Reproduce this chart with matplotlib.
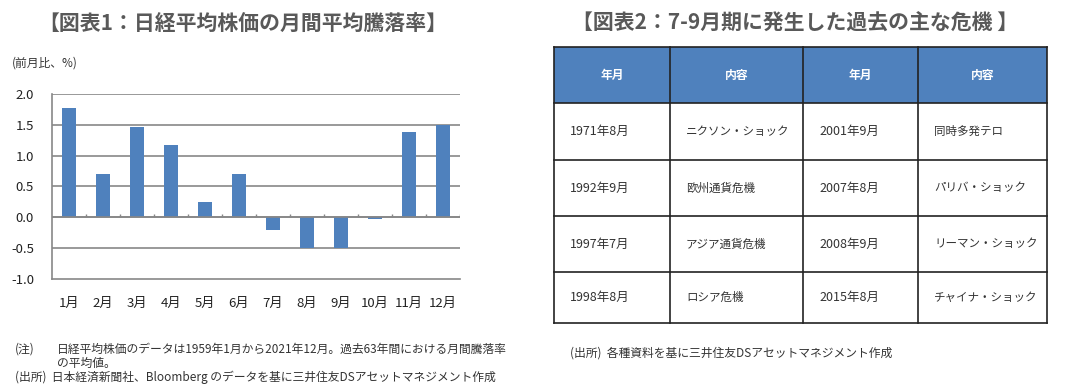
import numpy as np
import matplotlib.pyplot as plt
from matplotlib.patches import Rectangle

plt.rcParams['font.family'] = ['Noto Sans CJK JP', 'DejaVu Sans']

months = ['1月', '2月', '3月', '4月', '5月', '6月', '7月', '8月', '9月', '10月', '11月', '12月']
returns = [1.77, 0.71, 1.46, 1.18, 0.25, 0.71, -0.21, -0.50, -0.50, -0.02, 1.39, 1.49]

headers = ['年月', '内容', '年月', '内容']
rows = [
    ['1971年8月', 'ニクソン・ショック', '2001年9月', '同時多発テロ'],
    ['1992年9月', '欧州通貨危機', '2007年8月', 'パリバ・ショック'],
    ['1997年7月', 'アジア通貨危機', '2008年9月', 'リーマン・ショック'],
    ['1998年8月', 'ロシア危機', '2015年8月', 'チャイナ・ショック'],
]

W, H = 1075, 391
fig = plt.figure(figsize=(W / 100, H / 100), dpi=100)
blue = '#4F81BD'
grid = '#878787'
title_c = '#595959'
txt = '#333333'

# overlay in pixel coords for titles, notes and table
ov = fig.add_axes([0, 0, 1, 1])
ov.set_xlim(0, W)
ov.set_ylim(H, 0)
ov.axis('off')

# bar chart
l, r, t, b = 52, 460, 94, 279
ax = fig.add_axes([l / W, 1 - b / H, (r - l) / W, (b - t) / H])
x = np.arange(len(months))
ax.bar(x, returns, width=0.4, color=blue, zorder=3)
ax.set_xlim(-0.5, len(months) - 0.5)
ax.set_ylim(-1.0, 2.0)
ax.set_yticks(np.arange(-1.0, 2.01, 0.5))
ax.set_yticklabels([f'{v:.1f}' for v in np.arange(-1.0, 2.01, 0.5)], fontsize=9.5, color='#222222')
ax.set_xticks(x)
ax.set_xticklabels(months, fontsize=9.5, color='#222222')
ax.tick_params(axis='y', length=0, pad=13)
ax.tick_params(axis='x', length=0, pad=13)
for v in np.arange(-0.5, 2.01, 0.5):
    ax.axhline(v, color=grid, lw=1.2, zorder=1)
ax.axhline(0, color=grid, lw=1.2, zorder=4)
ax.vlines(np.arange(0.5, len(months), 1), 0, 0.05, color=grid, lw=1, zorder=4)
for s in ['top', 'right']:
    ax.spines[s].set_visible(False)
for s in ['left', 'bottom']:
    ax.spines[s].set_color(grid)
    ax.spines[s].set_linewidth(1.2)
ax.set_facecolor('none')

ov.text(243, 23, '【図表1：日経平均株価の月間平均騰落率】', fontsize=15, fontweight='bold',
        color=title_c, ha='center', va='center')
ov.text(12, 63, '(前月比、%)', fontsize=8.5, color=txt, ha='left', va='center')
ov.text(15, 349, '(注)', fontsize=8.5, color=txt, ha='left', va='center')
ov.text(57, 349, '日経平均株価のデータは1959年1月から2021年12月。過去63年間における月間騰落率',
        fontsize=8.5, color=txt, ha='left', va='center')
ov.text(57, 363, 'の平均値。', fontsize=8.5, color=txt, ha='left', va='center')
ov.text(15, 377, '(出所)  日本経済新聞社、Bloomberg のデータを基に三井住友DSアセットマネジメント作成',
        fontsize=8.5, color=txt, ha='left', va='center')

# table
ov.text(795, 23, '【図表2：7-9月期に発生した過去の主な危機 】', fontsize=15, fontweight='bold',
        color=title_c, ha='center', va='center')
cols = [554, 670, 803, 918, 1047]
rlines = [47, 103, 160, 216, 272, 323]
ov.add_patch(Rectangle((cols[0], rlines[0]), cols[-1] - cols[0], rlines[1] - rlines[0],
                       facecolor=blue, edgecolor='none'))
for c in cols:
    ov.plot([c, c], [rlines[0], rlines[-1]], color='#222222', lw=1.2)
for y in rlines:
    ov.plot([cols[0], cols[-1]], [y, y], color='#222222', lw=1.2)
for j, h in enumerate(headers):
    ov.text((cols[j] + cols[j + 1]) / 2, (rlines[0] + rlines[1]) / 2, h, fontsize=8.5,
            fontweight='bold', color='white', ha='center', va='center')
for i, row in enumerate(rows):
    yc = (rlines[i + 1] + rlines[i + 2]) / 2
    for j, cell in enumerate(row):
        fs = 9 if j % 2 == 0 else 8.3
        ov.text(cols[j] + 16, yc, cell, fontsize=fs, color=txt, ha='left', va='center')
ov.text(570, 353, '(出所)  各種資料を基に三井住友DSアセットマネジメント作成',
        fontsize=8.5, color=txt, ha='left', va='center')

fig.savefig('out.png', dpi=100)
